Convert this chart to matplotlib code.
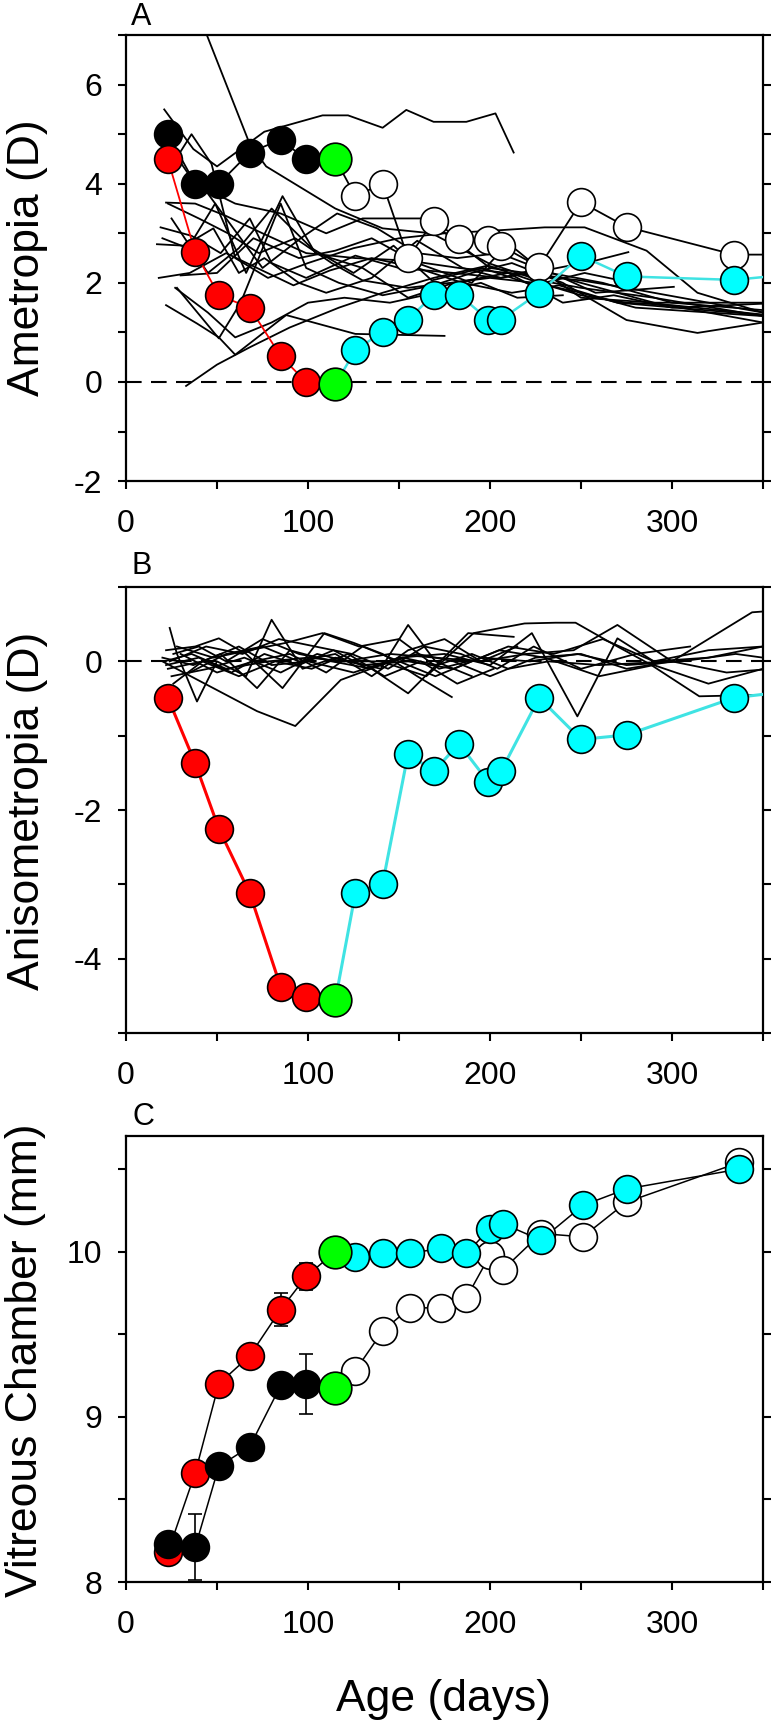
import numpy as np
import matplotlib
matplotlib.use('Agg')
import matplotlib.pyplot as plt
from matplotlib.ticker import MultipleLocator

plt.rcParams['font.family'] = ['Liberation Sans', 'DejaVu Sans']
plt.rcParams['axes.unicode_minus'] = False

# ---------------- datos ----------------
ages_treat = [23, 38, 51, 68, 85, 99]
age_green = 115
ages_recov = [126, 141, 155, 169, 183, 199, 206, 227, 250, 275, 334, 365]

# A: ametropia (D)
a_red = [4.49, 2.62, 1.75, 1.50, 0.52, 0.0]
a_black = [5.0, 4.0, 4.0, 4.63, 4.89, 4.49]
a_green = [-0.05, 4.5]
a_cyan = [0.64, 1.01, 1.26, 1.76, 1.76, 1.26, 1.26, 1.80, 2.55, 2.13, 2.06, 2.17]
a_open = [3.75, 4.0, 2.5, 3.25, 2.89, 2.87, 2.75, 2.32, 3.63, 3.13, 2.57, 2.57]

# A: animales individuales (edad, ametropia)
a_animals = [
    ([38, 68, 77, 115, 141, 168, 199, 227, 250, 290, 350], [7.6, 4.8, 4.35, 3.5, 3.1, 3.0, 2.4, 2.05, 1.9, 1.7, 1.33]),
    ([21, 37, 50, 76, 108, 122, 141, 154, 169, 187, 203, 213], [5.5, 4.7, 4.35, 5.05, 5.38, 5.38, 5.13, 5.49, 5.25, 5.25, 5.42, 4.63]),
    ([22, 38, 55, 75, 99, 126, 155, 183, 210, 250, 275, 320, 350], [3.62, 3.6, 3.35, 3.0, 2.6, 2.5, 2.45, 2.3, 2.2, 2.05, 1.9, 1.6, 1.4]),
    ([33, 50, 68, 90, 117, 141, 169, 199, 227, 250, 275, 300, 350], [-0.08, 0.35, 0.7, 1.1, 1.5, 1.8, 2.1, 2.35, 2.0, 1.75, 1.6, 1.55, 1.36]),
    ([22, 39, 51, 60, 88, 126, 150, 175], [1.55, 1.18, 0.9, 0.55, 1.35, 0.97, 0.95, 0.93]),
    ([28, 51, 63, 85, 99, 117, 141, 169, 190, 212, 240, 275, 314, 350], [1.9, 0.88, 1.6, 3.6, 2.3, 2.0, 1.75, 1.95, 2.2, 2.4, 2.0, 1.25, 0.99, 1.2]),
    ([19, 36, 52, 68, 80, 99, 126, 150, 180, 206, 230, 258, 276], [3.12, 2.95, 2.6, 3.3, 2.4, 2.1, 2.55, 2.3, 2.2, 2.1, 2.25, 2.45, 2.62]),
    ([17, 32, 48, 62, 76, 95, 110, 135, 160, 185, 206, 228, 258, 301], [2.78, 2.75, 3.1, 2.2, 2.5, 2.0, 1.8, 2.1, 2.85, 2.3, 2.1, 2.3, 1.8, 1.92]),
    ([20, 34, 49, 66, 86, 104, 130, 155, 180, 210, 240, 268, 300, 350], [2.9, 2.7, 3.6, 2.2, 3.75, 2.6, 2.3, 1.7, 2.0, 2.2, 1.6, 1.75, 1.5, 1.58]),
    ([30, 50, 70, 95, 115, 135, 160, 190, 210, 230, 250, 290, 350], [2.15, 2.2, 2.9, 2.5, 2.65, 2.9, 2.4, 2.0, 2.8, 2.2, 1.7, 1.6, 1.6]),
    ([23, 40, 56, 73, 93, 113, 130, 155, 178, 200, 225, 250, 280, 350], [3.6, 3.3, 3.0, 2.6, 2.9, 2.4, 2.05, 1.9, 2.0, 2.1, 2.0, 1.8, 1.5, 1.33]),
    ([25, 45, 62, 80, 102, 125, 147, 168, 196, 224, 252, 278], [3.3, 2.2, 2.7, 3.5, 2.7, 2.2, 2.75, 2.05, 2.3, 1.95, 2.2, 2.0]),
    ([41, 57, 75, 96, 116, 138, 160, 182, 205, 233, 262, 300, 350], [4.0, 3.2, 2.3, 2.9, 3.4, 3.1, 2.6, 2.5, 2.6, 2.2, 2.0, 1.6, 1.45]),
    ([24, 36, 47, 60, 78, 100, 125, 150, 175, 200, 230, 252, 286, 314, 350], [4.3, 5.0, 4.4, 2.5, 2.1, 2.4, 2.7, 2.9, 3.0, 3.05, 3.12, 3.12, 2.65, 1.8, 1.4]),
    ([27, 45, 60, 80, 100, 120, 145, 170, 195, 215, 240], [1.9, 1.4, 0.9, 1.2, 1.6, 1.7, 1.6, 1.8, 2.0, 1.7, 1.75]),
    ([18, 35, 55, 72, 92, 112, 135, 160, 185, 212, 238, 270, 350], [2.1, 2.2, 2.6, 2.3, 1.95, 2.25, 2.5, 2.3, 2.0, 1.8, 1.95, 1.6, 1.35]),
    ([23, 38, 60, 85, 110, 130, 165, 200, 240, 290, 350], [4.8, 4.0, 3.6, 3.4, 3.0, 3.3, 3.3, 2.3, 2.1, 1.6, 1.2]),
]

# B: anisometropia (D)
b_red = [-0.49, -1.37, -2.25, -3.12, -4.38, -4.52]
b_green = [-4.56]
b_cyan = [-3.12, -2.99, -1.24, -1.48, -1.11, -1.62, -1.48, -0.49, -1.05, -0.99, -0.49, -0.40]

b_animals = [
    ([20, 34, 72, 93, 118, 140, 160, 180, 200, 225, 250, 275, 300], [0.0, -0.18, -0.67, -0.87, -0.25, -0.05, 0.1, 0.0, -0.2, 0.05, 0.1, -0.1, 0.0]),
    ([24, 28, 39, 50, 66, 80, 97, 115, 140, 155, 170, 190], [0.45, 0.1, -0.54, 0.0, -0.2, 0.56, -0.1, 0.05, -0.1, 0.49, 0.0, -0.2]),
    ([22, 38, 51, 66, 86, 109, 125, 141, 160, 179], [0.15, 0.2, 0.31, 0.1, -0.36, 0.38, 0.25, 0.1, -0.2, -0.48]),
    ([20, 37, 52, 72, 90, 113, 135, 155, 188, 213], [0.05, -0.05, 0.1, -0.36, 0.15, 0.0, -0.1, -0.43, 0.38, 0.33]),
    ([26, 40, 55, 75, 95, 115, 140, 165, 191, 219, 236, 247, 270, 288, 315, 350], [0.1, 0.2, 0.0, 0.3, 0.1, 0.0, 0.0, -0.2, 0.38, 0.51, 0.52, 0.52, 0.2, -0.04, -0.47, -0.45]),
    ([23, 42, 62, 80, 100, 125, 150, 175, 200, 223, 248, 270, 290, 320, 350], [-0.1, 0.0, 0.2, -0.05, 0.0, -0.15, 0.05, 0.1, -0.05, 0.38, -0.74, 0.31, 0.0, 0.15, 0.2]),
    ([21, 36, 55, 78, 100, 120, 145, 170, 195, 220, 246, 270, 300, 344, 355], [0.0, 0.1, -0.1, 0.0, 0.05, 0.0, 0.1, 0.05, 0.0, 0.1, 0.15, 0.49, 0.0, 0.66, 0.68]),
    ([25, 45, 65, 85, 105, 130, 155, 180, 205, 230, 260, 290, 320, 350], [-0.2, -0.1, 0.05, -0.15, 0.1, -0.05, 0.0, -0.1, 0.15, 0.05, -0.2, -0.05, -0.3, -0.1]),
    ([28, 48, 68, 88, 108, 128, 150, 172, 196, 222, 248, 275, 305, 335, 350], [0.2, 0.05, 0.15, 0.25, 0.38, 0.2, 0.3, -0.1, 0.05, 0.0, 0.1, -0.05, 0.0, 0.1, 0.05]),
    ([22, 40, 58, 76, 95, 114, 133, 152, 171, 190, 210, 232, 260, 300, 330, 350], [-0.05, 0.05, -0.15, 0.1, -0.05, 0.15, -0.1, 0.05, -0.05, 0.1, -0.1, 0.0, -0.05, 0.0, -0.15, -0.11]),
    ([30, 50, 70, 90, 110, 130, 150, 170, 190, 210, 235, 262, 290, 320, 350], [0.1, -0.15, 0.0, 0.1, -0.15, 0.2, 0.0, -0.2, 0.0, 0.2, 0.1, 0.3, 0.0, 0.05, 0.2]),
    ([24, 44, 64, 84, 104, 124, 144, 164, 184, 204, 224, 250, 280, 310], [0.0, 0.2, 0.1, 0.3, 0.2, 0.1, -0.1, 0.2, 0.1, -0.1, 0.2, -0.1, 0.1, 0.2]),
    ([26, 42, 62, 82, 102, 122, 142, 162, 182, 202], [-0.3, 0.0, -0.2, 0.0, -0.1, 0.1, -0.2, 0.0, -0.3, -0.1]),
    ([35, 55, 75, 95, 115, 135, 155, 175, 195, 215], [-0.15, 0.1, 0.2, 0.0, 0.1, -0.2, 0.15, 0.3, 0.0, 0.2]),
]

# C: camara vitrea (mm)
c_ages_recov = [126, 141, 156, 173, 187, 200, 207, 228, 251, 275, 337]
c_red = [8.18, 8.66, 9.20, 9.37, 9.65, 9.85]
c_red_err = [0.03, 0.05, 0.05, 0.05, 0.10, 0.08]
c_black = [8.23, 8.21, 8.70, 8.82, 9.19, 9.20]
c_black_err = [0.05, 0.20, 0.05, 0.05, 0.05, 0.18]
c_green = [10.0, 9.175]
c_cyan = [9.97, 9.99, 9.99, 10.02, 9.99, 10.14, 10.17, 10.07, 10.28, 10.38, 10.50]
c_open = [9.28, 9.52, 9.66, 9.66, 9.72, 9.98, 9.89, 10.11, 10.09, 10.30, 10.54]

RED = '#ff0000'
CYAN = '#00ffff'
CYAN_LINE = '#3fe3e3'
GREEN = '#00ff00'
MS = 20
MS_G = 23.5


def puntos(ax, x, y, face, z):
    ax.plot(x, y, 'o', ms=MS, mfc=face, mec='black', mew=1.2, zorder=z, clip_on=True)


def ejes(ax, ylim, ymaj, ymin):
    ax.set_xlim(0, 350)
    ax.set_ylim(*ylim)
    ax.xaxis.set_major_locator(MultipleLocator(100))
    ax.xaxis.set_minor_locator(MultipleLocator(50))
    ax.yaxis.set_major_locator(MultipleLocator(ymaj))
    ax.yaxis.set_minor_locator(MultipleLocator(ymin))
    ax.tick_params(which='both', direction='out', length=6, width=1.5,
                   left=True, right=True, top=False, bottom=True, labelsize=23)
    ax.tick_params(axis='x', pad=14)
    ax.tick_params(axis='y', pad=11)
    for s in ax.spines.values():
        s.set_linewidth(1.6)


fig = plt.figure(figsize=(7.74, 17.2), dpi=100)
L, W, H = 0.1628, 0.823, 0.2593
axA = fig.add_axes([L, 0.7203, W, H])
axB = fig.add_axes([L, 0.3994, W, H])
axC = fig.add_axes([L, 0.0802, W, H])

# ---- A ----
for d, v in a_animals:
    axA.plot(d, v, color='black', lw=1.3, zorder=2)
axA.axhline(0, color='black', lw=1.5, ls=(0, (7.5, 4.5)), zorder=1)
axA.plot(ages_treat + [age_green], a_black + [a_green[1]], color='black', lw=1.3, zorder=3)
axA.plot(ages_treat + [age_green], a_red + [a_green[0]], color=RED, lw=1.3, zorder=3)
axA.plot([age_green] + ages_recov, [a_green[1]] + a_open, color='black', lw=1.3, zorder=3)
axA.plot([age_green] + ages_recov, [a_green[0]] + a_cyan, color=CYAN_LINE, lw=1.8, zorder=3)
puntos(axA, ages_treat, a_black, 'black', 4)
puntos(axA, ages_treat, a_red, RED, 4.5)
puntos(axA, ages_recov, a_open, 'white', 4)
puntos(axA, ages_recov, a_cyan, CYAN, 4.5)
axA.plot([age_green] * 2, a_green, 'o', ms=MS_G, mfc=GREEN, mec='black', mew=1.2, zorder=5)
ejes(axA, (-2, 7), 2, 1)

# ---- B ----
for d, v in b_animals:
    axB.plot(d, v, color='black', lw=1.3, zorder=2)
axB.axhline(0, color='black', lw=1.5, ls=(0, (7.5, 4.5)), zorder=1)
axB.plot(ages_treat + [age_green], b_red + b_green, color=RED, lw=2.2, zorder=3)
axB.plot([age_green] + ages_recov, b_green + b_cyan, color=CYAN_LINE, lw=2.2, zorder=3)
puntos(axB, ages_treat, b_red, RED, 4)
puntos(axB, ages_recov, b_cyan, CYAN, 4)
axB.plot([age_green], b_green, 'o', ms=MS_G, mfc=GREEN, mec='black', mew=1.2, zorder=5)
ejes(axB, (-5, 1), 2, 1)

# ---- C ----
axC.errorbar(ages_treat, c_red, yerr=c_red_err, fmt='none', ecolor='black', elinewidth=1.2, capsize=5, capthick=1.2, zorder=2)
axC.errorbar(ages_treat, c_black, yerr=c_black_err, fmt='none', ecolor='black', elinewidth=1.2, capsize=5, capthick=1.2, zorder=2)
axC.plot(ages_treat + [age_green], c_red + [c_green[0]], color='black', lw=1.1, zorder=3)
axC.plot(ages_treat + [age_green], c_black + [c_green[1]], color='black', lw=1.1, zorder=3)
axC.plot([age_green] + c_ages_recov, [c_green[1]] + c_open, color='black', lw=1.1, zorder=3)
axC.plot([age_green] + c_ages_recov, [c_green[0]] + c_cyan, color='black', lw=1.1, zorder=3)
puntos(axC, ages_treat, c_red, RED, 4)
puntos(axC, ages_treat, c_black, 'black', 4.2)
puntos(axC, c_ages_recov, c_open, 'white', 4.4)
puntos(axC, c_ages_recov, c_cyan, CYAN, 4.6)
axC.plot([age_green] * 2, c_green, 'o', ms=MS_G, mfc=GREEN, mec='black', mew=1.2, zorder=5)
ejes(axC, (8, 10.7), 1, 0.5)

# textos
fig.text(28 / 774, 1 - 258 / 1720, 'Ametropia (D)', rotation=90, ha='center', va='center', fontsize=32)
fig.text(28 / 774, 1 - 811 / 1720, 'Anisometropia (D)', rotation=90, ha='center', va='center', fontsize=32)
fig.text(26 / 774, 1 - 1360 / 1720, 'Vitreous Chamber (mm)', rotation=90, ha='center', va='center', fontsize=32)
fig.text(444 / 774, 1 - 1699 / 1720, 'Age (days)', ha='center', va='center', fontsize=32)
fig.text(131 / 774, 1 - 25 / 1720, 'A', ha='left', va='baseline', fontsize=22)
fig.text(132 / 774, 1 - 574 / 1720, 'B', ha='left', va='baseline', fontsize=22)
fig.text(132 / 774, 1 - 1125 / 1720, 'C', ha='left', va='baseline', fontsize=22)

fig.savefig('out.png', dpi=100)
